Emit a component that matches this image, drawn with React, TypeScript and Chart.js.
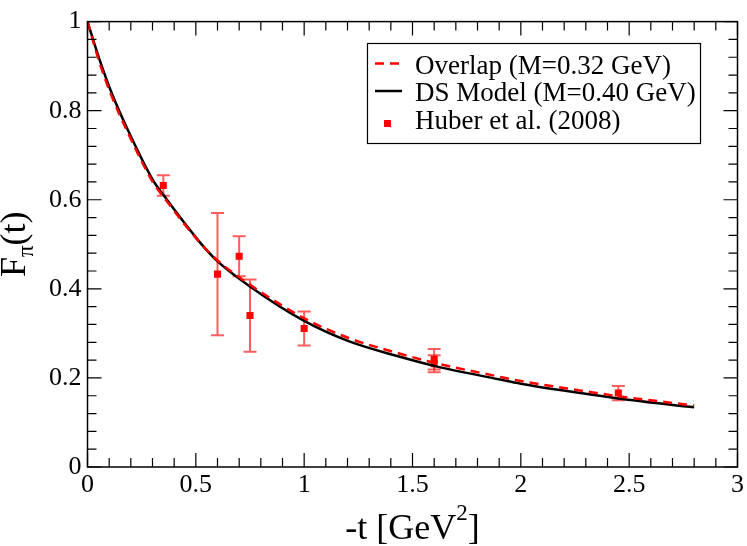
import React, { useRef, useEffect } from "react";
import Chart from "chart.js/auto";

// curves
const dsX = [0, 0.054, 0.113, 0.189, 0.3, 0.35, 0.518, 0.602, 0.748, 1.0, 1.208, 1.438, 1.6, 1.898, 2.0, 2.205, 2.45, 2.8];
const dsY = [1.0, 0.917, 0.838, 0.754, 0.646, 0.611, 0.505, 0.461, 0.406, 0.328, 0.282, 0.248, 0.227, 0.197, 0.187, 0.171, 0.154, 0.134];
const overlapX = [0, 0.054, 0.113, 0.189, 0.3, 0.35, 0.518, 0.602, 0.748, 1.0, 1.208, 1.438, 1.6, 1.898, 2.0, 2.205, 2.45, 2.8];
const overlapY = [1.0, 0.91, 0.831, 0.748, 0.641, 0.607, 0.504, 0.463, 0.41, 0.334, 0.289, 0.255, 0.234, 0.203, 0.193, 0.177, 0.159, 0.138];

// Huber et al. (2008) points
const huberX = [0.35, 0.6, 0.7, 0.75, 1.0, 1.6, 1.6, 2.45];
const huberY = [0.632, 0.433, 0.473, 0.34, 0.311, 0.242, 0.232, 0.166];
const huberErr = [0.023, 0.137, 0.045, 0.081, 0.038, 0.023, 0.019, 0.016];

const xMajorTicks = [0, 0.5, 1, 1.5, 2, 2.5, 3];
const yMajorTicks = [0, 0.2, 0.4, 0.6, 0.8, 1];
const xMinorStep = 0.1;
const yMinorStep = 0.04;

const FONT = "'Liberation Serif', 'Times New Roman', serif";

const errorBars = {
  id: "errorBars",
  beforeDatasetDraw(chart: any, args: any) {
    if (args.index !== 2) return;
    const { ctx, scales } = chart;
    ctx.save();
    ctx.strokeStyle = "rgba(255,40,40,0.75)";
    ctx.lineWidth = 2;
    huberX.forEach((x, i) => {
      const px = scales.x.getPixelForValue(x);
      const top = scales.y.getPixelForValue(huberY[i] + huberErr[i]);
      const bot = scales.y.getPixelForValue(huberY[i] - huberErr[i]);
      ctx.beginPath();
      ctx.moveTo(px, top);
      ctx.lineTo(px, bot);
      ctx.moveTo(px - 6.5, top);
      ctx.lineTo(px + 6.5, top);
      ctx.moveTo(px - 6.5, bot);
      ctx.lineTo(px + 6.5, bot);
      ctx.stroke();
    });
    ctx.restore();
  },
};

const frameTicks = {
  id: "frameTicks",
  afterDraw(chart: any) {
    const { ctx, chartArea: a, scales } = chart;
    ctx.save();
    ctx.strokeStyle = "#000";
    ctx.lineWidth = 1.5;
    ctx.strokeRect(a.left, a.top, a.right - a.left, a.bottom - a.top);
    ctx.lineWidth = 1.2;
    ctx.beginPath();
    const xMax = xMajorTicks[xMajorTicks.length - 1];
    for (let k = 0; k * xMinorStep <= xMax + 1e-9; k++) {
      const v = k * xMinorStep;
      const major = xMajorTicks.some((t) => Math.abs(t - v) < 1e-6);
      const len = major ? 14 : 9;
      const px = scales.x.getPixelForValue(v);
      ctx.moveTo(px, a.bottom);
      ctx.lineTo(px, a.bottom - len);
      ctx.moveTo(px, a.top);
      ctx.lineTo(px, a.top + len);
    }
    const yMax = yMajorTicks[yMajorTicks.length - 1];
    for (let k = 0; k * yMinorStep <= yMax + 1e-9; k++) {
      const v = k * yMinorStep;
      const major = yMajorTicks.some((t) => Math.abs(t - v) < 1e-6);
      const len = major ? 14 : 9;
      const py = scales.y.getPixelForValue(v);
      ctx.moveTo(a.left, py);
      ctx.lineTo(a.left + len, py);
      ctx.moveTo(a.right, py);
      ctx.lineTo(a.right - len, py);
    }
    ctx.stroke();

    // axis titles
    ctx.fillStyle = "#000";
    ctx.textBaseline = "alphabetic";
    ctx.textAlign = "left";
    const big = `36px ${FONT}`;
    const small = `23px ${FONT}`;
    ctx.font = big;
    const w1 = ctx.measureText("-t [GeV").width;
    const w3 = ctx.measureText("]").width;
    ctx.font = small;
    const w2 = ctx.measureText("2").width;
    const cx = (a.left + a.right) / 2;
    let x0 = cx - (w1 + w2 + w3) / 2;
    ctx.font = big;
    ctx.fillText("-t [GeV", x0, 539);
    ctx.font = small;
    ctx.fillText("2", x0 + w1, 520);
    ctx.font = big;
    ctx.fillText("]", x0 + w1 + w2, 539);

    ctx.save();
    ctx.translate(25, (a.top + a.bottom) / 2);
    ctx.rotate(-Math.PI / 2);
    ctx.font = big;
    const f1 = ctx.measureText("F").width;
    const f3 = ctx.measureText("(t)").width;
    ctx.font = small;
    const f2 = ctx.measureText("π").width;
    let y0 = -(f1 + f2 + f3) / 2;
    ctx.font = big;
    ctx.fillText("F", y0, 0);
    ctx.font = small;
    ctx.fillText("π", y0 + f1, 8);
    ctx.font = big;
    ctx.fillText("(t)", y0 + f1 + f2, 0);
    ctx.restore();

    // legend
    const lx = 367.5, ly = 43.5, lw = 333, lh = 100;
    ctx.lineWidth = 1.2;
    ctx.strokeRect(lx, ly, lw, lh);
    ctx.font = `27px ${FONT}`;
    const rows = [73.5, 101, 128.5];
    chart.data.datasets.forEach((ds: any, i: number) => {
      const by = rows[i];
      const my = by - 10;
      if (ds.showLine === false) {
        ctx.fillStyle = ds.pointBackgroundColor;
        ctx.fillRect(384, my - 3.5 + 5, 7, 7);
      } else {
        ctx.strokeStyle = ds.borderColor;
        ctx.lineWidth = ds.borderWidth;
        ctx.setLineDash(ds.borderDash || []);
        ctx.beginPath();
        ctx.moveTo(375, my);
        ctx.lineTo(402, my);
        ctx.stroke();
        ctx.setLineDash([]);
      }
      ctx.fillStyle = "#000";
      ctx.fillText(ds.label, 415, by);
    });
    ctx.restore();
  },
};

const App = () => {
  const chartRef = useRef<HTMLCanvasElement>(null);
  const chartInstanceRef = useRef<Chart>();

  useEffect(() => {
    document.body.style.margin = "0";
    const ctx = chartRef.current!.getContext("2d");
    if (chartInstanceRef.current) chartInstanceRef.current.destroy();
    if (!ctx) return;

    chartInstanceRef.current = new Chart(ctx, {
      type: "line",
      data: {
        datasets: [
          {
            label: "Overlap (M=0.32 GeV)",
            data: overlapX.map((x, i) => ({ x, y: overlapY[i] })),
            borderColor: "#ff0000",
            borderWidth: 2.5,
            borderDash: [9, 6],
            pointRadius: 0,
            cubicInterpolationMode: "monotone",
            fill: false,
          },
          {
            label: "DS Model (M=0.40 GeV)",
            data: dsX.map((x, i) => ({ x, y: dsY[i] })),
            borderColor: "#000000",
            borderWidth: 2.5,
            pointRadius: 0,
            cubicInterpolationMode: "monotone",
            fill: false,
          },
          {
            label: "Huber et al. (2008)",
            data: huberX.map((x, i) => ({ x, y: huberY[i] })),
            showLine: false,
            pointStyle: "rect",
            pointRadius: 5,
            pointBorderWidth: 0,
            pointBackgroundColor: "#ff0000",
            pointBorderColor: "#ff0000",
          },
        ],
      },
      options: {
        animation: false,
        responsive: false,
        layout: { padding: { left: 0, top: 11, right: 7.5, bottom: 0 } },
        plugins: {
          legend: { display: false },
          tooltip: { enabled: false },
        },
        scales: {
          x: {
            type: "linear",
            min: 0,
            max: 3,
            grid: { display: false, drawTicks: false },
            border: { display: false },
            afterFit: (s: any) => {
              s.height = 79;
            },
            afterBuildTicks: (s: any) => {
              s.ticks = xMajorTicks.map((v) => ({ value: v }));
            },
            ticks: {
              autoSkip: false,
              maxRotation: 0,
              padding: 3,
              color: "#000",
              font: { family: FONT, size: 26 },
              callback: (v: any) => String(Number(Number(v).toFixed(2))),
            },
          },
          y: {
            type: "linear",
            min: 0,
            max: 1,
            grid: { display: false, drawTicks: false },
            border: { display: false },
            afterFit: (s: any) => {
              s.width = 87.5;
            },
            afterBuildTicks: (s: any) => {
              s.ticks = yMajorTicks.map((v) => ({ value: v }));
            },
            ticks: {
              autoSkip: false,
              padding: 6,
              color: "#000",
              font: { family: FONT, size: 26 },
              callback: (v: any) => String(Number(Number(v).toFixed(2))),
            },
          },
        },
      },
      plugins: [errorBars, frameTicks],
    } as any);

    return () => {
      if (chartInstanceRef.current) chartInstanceRef.current.destroy();
    };
  }, []);

  return (
    <div style={{ width: "747px", height: "546px", background: "#fff" }}>
      <canvas ref={chartRef} width={747} height={546} style={{ width: "747px", height: "546px" }} />
    </div>
  );
};

export default App;
